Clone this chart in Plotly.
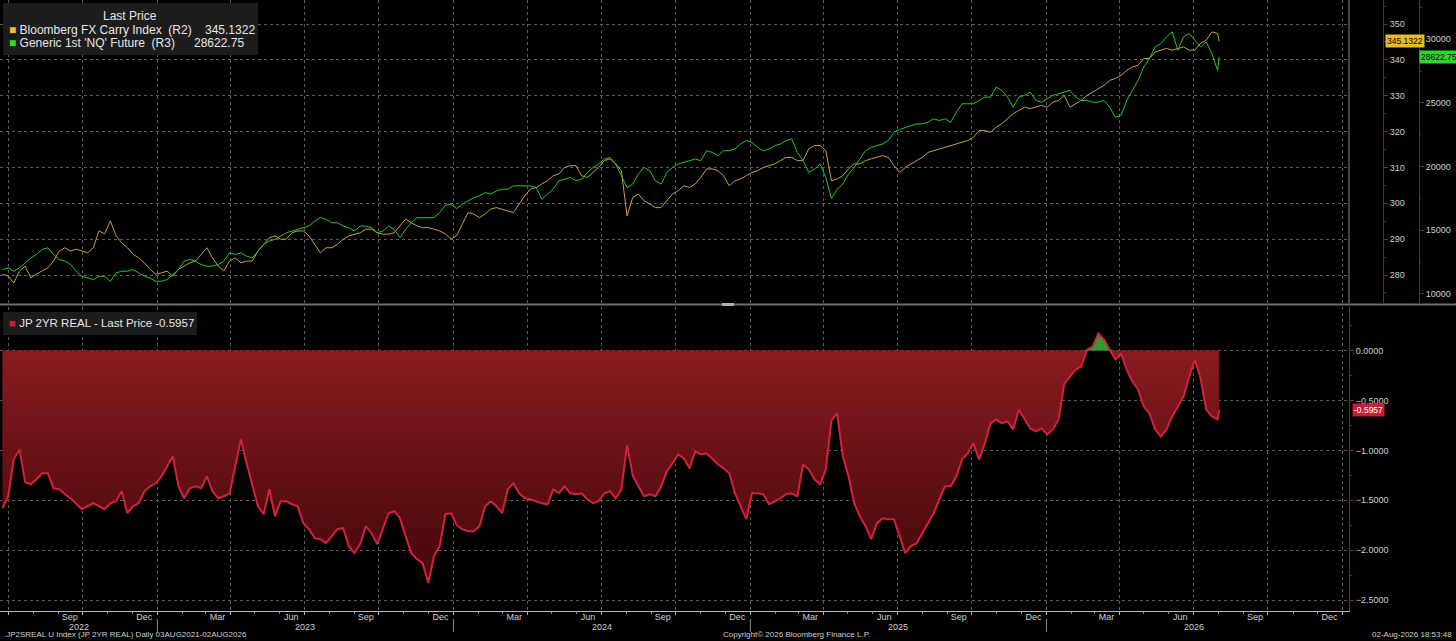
import pandas as pd
import plotly.graph_objects as go

# weekly samples, last point is the 02-Aug-2026 print
dates = list(pd.date_range("2022-06-24", periods=215, freq="7D")) + [pd.Timestamp("2026-08-02")]

fx_carry = [
    280.2, 279.7, 277.8, 281.1, 282.5, 279.2, 280.3, 281.1, 282.0, 283.9,
    286.7, 287.6, 286.7, 287.2, 286.7, 286.2, 287.6, 292.3, 291.5, 295.1,
    291.0, 289.0, 287.6, 285.8, 284.8, 283.4, 281.6, 280.2, 280.6, 281.1,
    279.7, 281.6, 282.5, 283.4, 283.9, 285.8, 287.6, 284.8, 282.5, 281.1,
    283.9, 284.8, 283.4, 283.9, 283.9, 286.7, 288.6, 290.4, 290.9, 290.0,
    290.0, 291.8, 292.3, 292.3, 290.9, 288.6, 286.2, 287.6, 287.6, 288.6,
    290.0, 290.9, 291.4, 291.8, 292.8, 292.8, 291.8, 291.4, 291.4, 291.8,
    293.7, 295.6, 294.6, 293.7, 293.2, 293.2, 292.8, 292.3, 291.5, 290.0,
    291.0, 294.2, 297.4, 297.0, 296.0, 297.0, 298.4, 298.8, 298.4, 297.9,
    297.4, 299.8, 302.1, 304.0, 304.4, 305.4, 306.3, 307.7, 308.2, 310.0,
    310.5, 310.5, 307.7, 307.2, 308.6, 310.0, 311.9, 312.4, 311.0, 309.1,
    296.5, 301.6, 302.6, 300.7, 299.8, 298.8, 298.8, 300.7, 302.6, 303.5,
    304.9, 304.4, 305.4, 307.2, 309.6, 309.6, 309.1, 307.7, 304.9, 306.3,
    306.8, 307.7, 308.6, 309.1, 310.0, 310.5, 311.0, 311.9, 312.8, 312.8,
    311.9, 311.9, 315.2, 316.1, 316.1, 314.7, 306.3, 306.8, 307.7, 309.6,
    311.0, 311.0, 311.9, 312.4, 312.8, 313.3, 312.8, 310.5, 308.6, 310.0,
    311.0, 311.9, 312.8, 314.2, 314.7, 315.2, 315.6, 316.1, 316.6, 317.0,
    317.5, 318.4, 320.3, 320.3, 319.8, 321.2, 322.2, 323.6, 325.0, 325.9,
    326.8, 326.4, 326.8, 327.3, 326.8, 328.2, 328.7, 330.1, 326.8, 327.8,
    328.7, 330.1, 331.0, 332.0, 332.9, 334.3, 334.8, 335.7, 337.1, 338.0,
    338.5, 340.4, 340.4, 342.2, 342.7, 343.2, 342.7, 343.2, 343.6, 342.7,
    342.7, 344.6, 345.5, 347.8, 347.4, 345.1322,
]

nq_future = [
    11917, 12043, 11783, 12043, 12437, 12832, 13100, 13494, 13620, 13100,
    12706, 12571, 12311, 11783, 11389, 11255, 11128, 11389, 11389, 10995,
    11649, 11783, 11783, 11917, 11649, 11389, 11255, 10995, 10995, 11128,
    11522, 11917, 12571, 12706, 12571, 12311, 12177, 12177, 12311, 12571,
    13226, 13100, 13226, 12966, 12832, 13360, 13888, 14149, 14282, 14543,
    14803, 14937, 15071, 15197, 15331, 15726, 15986, 15860, 15592, 15592,
    15331, 15197, 14937, 15331, 15331, 15197, 14803, 14937, 15331, 15071,
    14409, 15071, 15592, 15986, 15986, 15986, 15986, 16380, 16950, 17043,
    16700, 17043, 17303, 17563, 17697, 17957, 17831, 18091, 18226, 18226,
    18486, 18486, 18486, 18486, 18352, 17437, 17831, 18226, 18880, 19014,
    19146, 18880, 19014, 19536, 19929, 20197, 20591, 20718, 20197, 19275,
    18352, 18620, 19408, 19929, 19669, 18880, 18620, 19536, 19929, 20197,
    20323, 20460, 20591, 20460, 21246, 21112, 20852, 21246, 21246, 21380,
    21775, 22035, 21901, 21506, 21246, 21380, 21640, 21775, 22035, 22169,
    21112, 20460, 19536, 19803, 20197, 19146, 17500, 18226, 18620, 19408,
    19929, 20591, 21246, 21506, 21640, 21775, 22035, 22689, 22900, 23084,
    23217, 23351, 23351, 23478, 23746, 23612, 23746, 23478, 24266, 24929,
    24929, 24929, 25189, 25449, 25449, 26238, 25978, 25449, 24661, 25449,
    25583, 25844, 25189, 25055, 25323, 25583, 25717, 25844, 25978, 25449,
    25189, 25189, 25055, 25055, 25189, 24661, 23872, 24006, 25189, 25978,
    26766, 27815, 28478, 29392, 29661, 30181, 30575, 29132, 30181, 30449,
    29921, 29392, 29786, 28872, 27555, 28622.75,
]

jp_2yr_real = [
    -1.58, -1.46, -1.09, -0.99, -1.32, -1.34, -1.29, -1.23, -1.23, -1.38,
    -1.39, -1.44, -1.48, -1.53, -1.59, -1.56, -1.53, -1.56, -1.59, -1.53,
    -1.51, -1.41, -1.63, -1.56, -1.53, -1.41, -1.36, -1.33, -1.26, -1.16,
    -1.06, -1.36, -1.48, -1.38, -1.36, -1.38, -1.26, -1.41, -1.48, -1.46,
    -1.43, -1.16, -0.89, -1.13, -1.36, -1.56, -1.64, -1.39, -1.66, -1.51,
    -1.51, -1.54, -1.56, -1.73, -1.79, -1.88, -1.89, -1.93, -1.86, -1.79,
    -1.78, -1.96, -2.03, -1.94, -1.76, -1.83, -1.94, -1.79, -1.63, -1.61,
    -1.68, -1.86, -2.03, -2.09, -2.13, -2.33, -2.06, -1.96, -1.64, -1.63,
    -1.75, -1.79, -1.81, -1.81, -1.76, -1.56, -1.51, -1.56, -1.63, -1.39,
    -1.33, -1.43, -1.48, -1.49, -1.51, -1.53, -1.54, -1.39, -1.43, -1.36,
    -1.43, -1.44, -1.43, -1.49, -1.53, -1.51, -1.43, -1.41, -1.48, -1.39,
    -0.95, -1.25, -1.36, -1.46, -1.44, -1.46, -1.36, -1.21, -1.13, -1.04,
    -1.08, -1.18, -1.01, -1.04, -1.03, -1.09, -1.14, -1.18, -1.23, -1.43,
    -1.56, -1.69, -1.43, -1.43, -1.44, -1.54, -1.51, -1.48, -1.44, -1.43,
    -1.46, -1.14, -1.19, -1.29, -1.34, -1.19, -0.70, -0.63, -1.06, -1.26,
    -1.53, -1.66, -1.76, -1.89, -1.73, -1.68, -1.69, -1.69, -1.86, -2.03,
    -1.96, -1.93, -1.83, -1.73, -1.63, -1.49, -1.36, -1.36, -1.26, -1.09,
    -1.03, -0.93, -1.09, -0.93, -0.73, -0.69, -0.73, -0.71, -0.79, -0.59,
    -0.69, -0.78, -0.81, -0.78, -0.84, -0.79, -0.69, -0.33, -0.26, -0.19,
    -0.16, 0.01, 0.04, 0.17, 0.11, 0.01, -0.09, -0.03, -0.19, -0.31,
    -0.39, -0.56, -0.63, -0.79, -0.86, -0.79, -0.66, -0.56, -0.46, -0.26,
    -0.09, -0.28, -0.59, -0.66, -0.69, -0.5957,
]

assert len(fx_carry) == len(nq_future) == len(jp_2yr_real) == len(dates)

x_range = ["2022-06-21", "2027-01-09"]
quarter_starts = list(pd.date_range("2022-07-01", "2027-01-01", freq="QS"))
prev_month = {1: "Dec", 4: "Mar", 7: "Jun", 10: "Sep"}
quarter_labels = [prev_month[d.month] for d in quarter_starts]
quarter_labels[0] = ""
years = [2022, 2023, 2024, 2025, 2026]

CARRY_COL = "#c9a13f"
NQ_COL = "#25c825"
JP_COL = "#d4213d"
AXIS_RED = "#8e1c28"
GRID = "#5c5c5c"
TXT = "#cfcfcf"
SMALL = "Liberation Sans, Arial, sans-serif"

W, H = 1456, 641
R_MARGIN, B_MARGIN = 20, 30
PW, PH = W - R_MARGIN, H - B_MARGIN


def px_x(px):
    return px / PW


def px_y(py):
    return 1 - py / PH


fig = go.Figure()

fig.add_trace(go.Scatter(x=dates, y=fx_carry, mode="lines", xaxis="x", yaxis="y",
                         line=dict(color=CARRY_COL, width=1), hoverinfo="skip"))
fig.add_trace(go.Scatter(x=dates, y=nq_future, mode="lines", xaxis="x", yaxis="y3",
                         line=dict(color=NQ_COL, width=1), hoverinfo="skip"))

# red area down from zero, green where the yield is above zero
fig.add_trace(go.Scatter(
    x=dates, y=jp_2yr_real, mode="lines", xaxis="x2", yaxis="y2", fill="tozeroy",
    line=dict(width=0, color=JP_COL),
    fillgradient=dict(type="vertical", start=-2.5, stop=0,
                      colorscale=[[0, "rgb(62,6,10)"], [1, "rgb(136,27,31)"]]),
    hoverinfo="skip"))
fig.add_trace(go.Scatter(
    x=dates, y=[max(v, 0) for v in jp_2yr_real], mode="lines", xaxis="x2", yaxis="y2",
    fill="tozeroy", fillcolor="#2f9a2f", line=dict(width=0), hoverinfo="skip"))
fig.add_trace(go.Scatter(x=dates, y=jp_2yr_real, mode="lines", xaxis="x2", yaxis="y2",
                         line=dict(color=JP_COL, width=2), hoverinfo="skip"))

x_dom = [0, px_x(1349)]
top_dom = [px_y(303), 1]
bot_dom = [0, px_y(307)]

common_x = dict(type="date", range=x_range, domain=x_dom, tickmode="array",
                tickvals=quarter_starts, showgrid=True, gridcolor=GRID, griddash="dot",
                gridwidth=1, zeroline=False)
tick_font = dict(size=9, color=TXT, family=SMALL)

fig.update_layout(
    width=W, height=H, autosize=False,
    margin=dict(l=0, r=R_MARGIN, t=0, b=B_MARGIN),
    paper_bgcolor="black", plot_bgcolor="black",
    showlegend=False, hovermode=False,
    font=dict(family=SMALL, color=TXT, size=9),
    xaxis=dict(**common_x, anchor="y", matches="x2", showticklabels=False, ticks=""),
    xaxis2=dict(**common_x, anchor="y2", ticktext=quarter_labels, ticklabelshift=-13,
                ticklabelstandoff=-6, showline=True, linecolor="#b8b8b8", ticks="outside",
                ticklen=3, tickcolor="#b8b8b8", tickfont=tick_font,
                minor=dict(dtick="M1", tick0="2022-01-01", ticks="outside", ticklen=2,
                           tickcolor="#888", showgrid=False)),
    yaxis=dict(domain=top_dom, anchor="free", position=px_x(1383), side="right",
               range=[272.2, 356.7], dtick=10, showgrid=True, gridcolor=GRID, griddash="dot",
               zeroline=False, showline=True, linecolor=AXIS_RED, linewidth=1,
               ticks="outside", ticklen=4, tickcolor=AXIS_RED,
               minor=dict(dtick=5, ticks="outside", ticklen=2, tickcolor=AXIS_RED, showgrid=False),
               tickfont=tick_font),
    yaxis3=dict(domain=top_dom, overlaying="y", anchor="free", position=px_x(1419),
                side="right", range=[9290, 33075], dtick=5000, showgrid=False, zeroline=False,
                showline=True, linecolor=AXIS_RED, linewidth=1, ticks="outside", ticklen=4,
                tickcolor=AXIS_RED, tickformat="d",
                minor=dict(dtick=2500, ticks="outside", ticklen=2, tickcolor=AXIS_RED),
                tickfont=tick_font),
    yaxis2=dict(domain=bot_dom, anchor="x2", side="right", range=[-2.61, 0.437],
                dtick=0.5, tickformat=".4f", showgrid=True, gridcolor=GRID, griddash="dot",
                zeroline=False, showline=True, linecolor=AXIS_RED, linewidth=1,
                ticks="outside", ticklen=4, tickcolor=AXIS_RED,
                minor=dict(dtick=0.25, ticks="outside", ticklen=2, tickcolor=AXIS_RED),
                tickfont=tick_font),
)

# panel divider, the little drag handle and the top panel's right edge
fig.add_shape(type="line", xref="paper", yref="paper", x0=0, x1=px_x(W), y0=px_y(304.5),
              y1=px_y(304.5), line=dict(color="#6e6e6e", width=2))
fig.add_shape(type="line", xref="paper", yref="paper", x0=px_x(722), x1=px_x(734),
              y0=px_y(304.5), y1=px_y(304.5), line=dict(color="#b0b0b0", width=3))
fig.add_shape(type="line", xref="paper", yref="paper", x0=px_x(1349), x1=px_x(1349),
              y0=px_y(303.5), y1=1, line=dict(color="#8a8a8a", width=1))

# legend boxes
fig.add_shape(type="rect", xref="paper", yref="paper", x0=px_x(3), x1=px_x(258),
              y0=px_y(55), y1=px_y(3), fillcolor="#1c1c1c", line=dict(width=0), layer="above")
fig.add_shape(type="rect", xref="paper", yref="paper", x0=px_x(3), x1=px_x(197),
              y0=px_y(335), y1=px_y(312), fillcolor="#1c1c1c", line=dict(width=0), layer="above")

LEG = dict(family=SMALL, size=12, color="#e6e6e6")
fig.add_annotation(text="Last Price", xref="paper", yref="paper", x=px_x(130), y=px_y(16),
                   xanchor="center", yanchor="middle", showarrow=False, font=LEG)
rows = [
    ("#e8bf2c", "Bloomberg FX Carry Index  (R2)", f"{fx_carry[-1]:.4f}", 30, 203),
    ("#2fdc2f", "Generic 1st 'NQ' Future  (R3)", f"{nq_future[-1]:.2f}", 43, 192),
]
for col, name, val, ypx, vx in rows:
    fig.add_annotation(text=f"<span style='color:{col}'>■</span> {name}", xref="paper",
                       yref="paper", x=px_x(7), y=px_y(ypx), xanchor="left", yanchor="middle",
                       showarrow=False, font=LEG)
    fig.add_annotation(text=val, xref="paper", yref="paper", x=px_x(vx), y=px_y(ypx),
                       xanchor="left", yanchor="middle", showarrow=False, font=LEG)
fig.add_annotation(text=f"<span style='color:#c21f35'>■</span> JP 2YR REAL - Last Price {jp_2yr_real[-1]:.4f}",
                   xref="paper", yref="paper", x=px_x(7), y=px_y(323), xanchor="left",
                   yanchor="middle", showarrow=False, font=dict(LEG, size=11.5))

# last value tags on the axes
tags = [
    (f"{fx_carry[-1]:.4f}", "y", fx_carry[-1], 1385, "#e8bb2c", "black"),
    (f"{nq_future[-1]:.2f}", "y3", nq_future[-1], 1419, "#2fd52f", "black"),
    (f"{jp_2yr_real[-1]:.4f}", "y2", jp_2yr_real[-1], 1352, "#c81f38", "white"),
]
for txt, yref, yv, xp, bg, fg in tags:
    fig.add_annotation(text=txt, xref="paper", yref=yref, x=px_x(xp), y=yv, xanchor="left",
                       yanchor="middle", showarrow=False, bgcolor=bg, borderpad=1,
                       font=dict(family=SMALL, size=8.5, color=fg))

# year labels under the month ticks
x0, x1 = pd.Timestamp(x_range[0]), pd.Timestamp(x_range[1])
for yr in years:
    a = max(pd.Timestamp(f"{yr}-01-01"), x0)
    b = min(pd.Timestamp(f"{yr + 1}-01-01"), x1)
    fig.add_annotation(text=str(yr), xref="x2", yref="paper", x=a + (b - a) / 2, y=px_y(627),
                       xanchor="center", yanchor="middle", showarrow=False, font=tick_font)
    if yr > years[0]:
        fig.add_shape(type="line", xref="x2", yref="paper", x0=a, x1=a, y0=px_y(619),
                      y1=px_y(632), line=dict(color="#8a8a8a", width=1))

FOOT = dict(family=SMALL, size=8, color=TXT)
fig.add_annotation(text=".JP2SREAL U Index (JP 2YR REAL) Daily 03AUG2021-02AUG2026", xref="paper",
                   yref="paper", x=px_x(2), y=px_y(635), xanchor="left", yanchor="middle",
                   showarrow=False, font=FOOT)
fig.add_annotation(text="Copyright© 2026 Bloomberg Finance L.P.", xref="paper", yref="paper",
                   x=px_x(797), y=px_y(635), xanchor="center", yanchor="middle",
                   showarrow=False, font=FOOT)
fig.add_annotation(text="02-Aug-2026 18:53:48", xref="paper", yref="paper", x=px_x(1454),
                   y=px_y(635), xanchor="right", yanchor="middle", showarrow=False, font=FOOT)

# the page's default body margin would push the fixed-size figure off the window
fig.write_html("out.html", config={"displayModeBar": False},
               post_script="document.body.style.margin='0px';")
